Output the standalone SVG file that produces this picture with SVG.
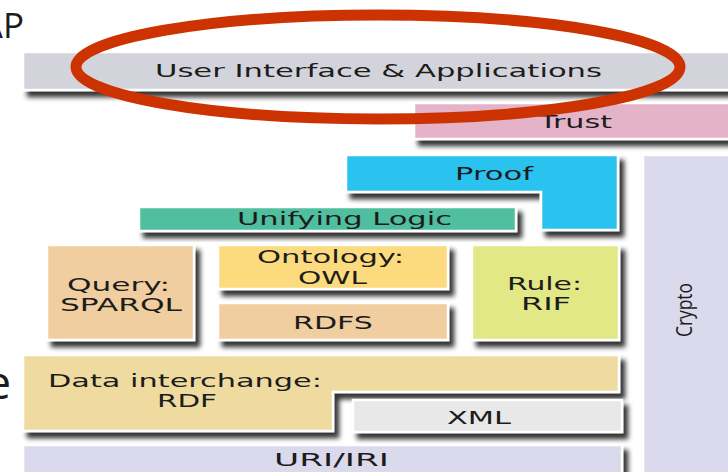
<svg xmlns="http://www.w3.org/2000/svg" width="728" height="472" viewBox="0 0 728 472">
  <defs>
    <filter id="shadow" x="-8%" y="-25%" width="120%" height="170%">
      <feGaussianBlur in="SourceAlpha" stdDeviation="2.5"/>
      <feOffset dx="5" dy="6" result="off"/>
      <feComponentTransfer><feFuncA type="linear" slope="0.8"/></feComponentTransfer>
      <feMerge><feMergeNode/><feMergeNode in="SourceGraphic"/></feMerge>
    </filter>
    <style>
      .box { stroke: #ffffff; stroke-width: 2.5; filter: url(#shadow); }
      .lbl { font-family: "DejaVu Sans", Verdana, sans-serif; font-size: 18px; fill: #1c1c1c; }
      .side { font-family: "Open Sans", "Liberation Sans", sans-serif; fill: #1c1c1c; }
    </style>
  </defs>
  <rect width="728" height="472" fill="#ffffff"/>

  <!-- slide title fragments at the left edge -->
  <text class="side" x="24" y="38" font-size="35" text-anchor="end">AP</text>
  <text class="side" x="11" y="399" font-size="46" text-anchor="end">e</text>

  <g id="ui">
    <rect class="box" x="23" y="52" width="720" height="38" fill="#d3d3db"/>
    <text class="lbl" x="155" y="77" textLength="447" lengthAdjust="spacingAndGlyphs">User Interface &amp; Applications</text>
  </g>
  <g id="trust">
    <rect class="box" x="414" y="103" width="330" height="36" fill="#e5b3c8"/>
    <text class="lbl" x="539" y="128" textLength="73" lengthAdjust="spacingAndGlyphs">Trust</text>
  </g>
  <g id="crypto">
    <rect class="box" x="643" y="155" width="100" height="330" fill="#dadaec"/>
    <text class="side" font-size="22" transform="translate(692,337) rotate(-90)" textLength="54" lengthAdjust="spacingAndGlyphs">Crypto</text>
  </g>
  <g id="proof">
    <path class="box" d="M346,155 H618 V230 H541 V192 H346 Z" fill="#2cc3f0"/>
    <text class="lbl" x="455" y="180" textLength="78" lengthAdjust="spacingAndGlyphs">Proof</text>
  </g>
  <g id="logic">
    <rect class="box" x="139" y="207" width="377" height="24" fill="#4fbf9f"/>
    <text class="lbl" x="237" y="225" textLength="215" lengthAdjust="spacingAndGlyphs">Unifying Logic</text>
  </g>
  <g id="query">
    <rect class="box" x="47" y="245" width="147" height="95" fill="#f0cea0"/>
    <text class="lbl" x="67" y="291" textLength="103" lengthAdjust="spacingAndGlyphs">Query:</text>
    <text class="lbl" x="60" y="311" textLength="122" lengthAdjust="spacingAndGlyphs">SPARQL</text>
  </g>
  <g id="ontology">
    <rect class="box" x="218" y="245" width="230" height="44" fill="#fcda7e"/>
    <text class="lbl" x="257" y="263" textLength="147" lengthAdjust="spacingAndGlyphs">Ontology:</text>
    <text class="lbl" x="298" y="284" textLength="69" lengthAdjust="spacingAndGlyphs">OWL</text>
  </g>
  <g id="rdfs">
    <rect class="box" x="218" y="303" width="230" height="37" fill="#f0cea0"/>
    <text class="lbl" x="293" y="329" textLength="80" lengthAdjust="spacingAndGlyphs">RDFS</text>
  </g>
  <g id="rule">
    <rect class="box" x="472" y="245" width="147" height="95" fill="#e2e886"/>
    <text class="lbl" x="507" y="290" textLength="75" lengthAdjust="spacingAndGlyphs">Rule:</text>
    <text class="lbl" x="521" y="310" textLength="50" lengthAdjust="spacingAndGlyphs">RIF</text>
  </g>
  <g id="rdf">
    <path class="box" d="M23,355 H619 V392 H333 V431 H23 Z" fill="#efdba0"/>
    <text class="lbl" x="48" y="387" textLength="274" lengthAdjust="spacingAndGlyphs">Data interchange:</text>
    <text class="lbl" x="157" y="407" textLength="60" lengthAdjust="spacingAndGlyphs">RDF</text>
  </g>
  <g id="xml">
    <rect class="box" x="353" y="400" width="269" height="32" fill="#e8e8e8"/>
    <text class="lbl" x="447" y="424" textLength="64" lengthAdjust="spacingAndGlyphs">XML</text>
  </g>
  <g id="uri">
    <rect class="box" x="23" y="445" width="599" height="40" fill="#dadaec"/>
    <text class="lbl" x="274" y="466" textLength="115" lengthAdjust="spacingAndGlyphs">URI/IRI</text>
  </g>

  <!-- highlight ring around the top layer -->
  <g id="connectors">
    <ellipse cx="378" cy="67" rx="302" ry="52" fill="none" stroke="#cc3300" stroke-width="11"/>
  </g>
</svg>
